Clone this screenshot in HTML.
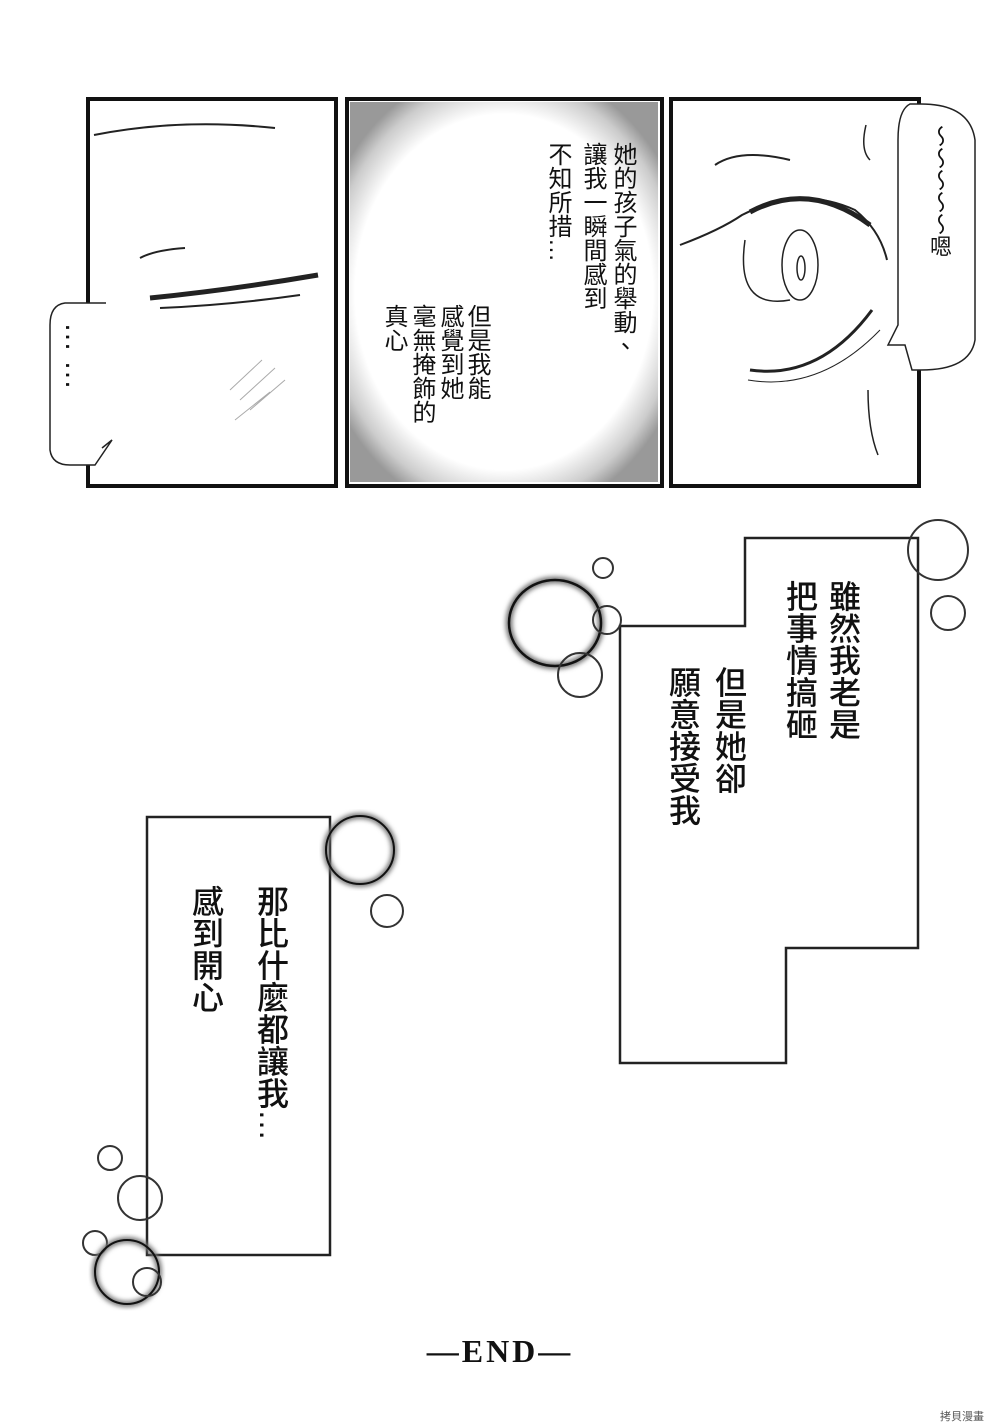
<!DOCTYPE html>
<html><head><meta charset="utf-8"><style>
body{margin:0;background:#fff;}
#p{position:relative;width:1000px;height:1425px;overflow:hidden;background:#fff;font-family:"Liberation Sans","Noto Sans CJK TC",sans-serif;}
.v{position:absolute;writing-mode:vertical-rl;color:#111;white-space:nowrap;}
.s{font-size:24px;line-height:28px;}
.b{font-size:32px;line-height:36px;font-weight:500;}
.h{position:absolute;left:350px;top:102px;width:308px;height:380px;background:radial-gradient(ellipse 62% 60% at 50% 50%,#fff 78%,#ccc 92%,#999 100%);}
</style></head><body><div id="p">
<div class="h"></div>
<svg width="1000" height="1425" style="position:absolute;left:0;top:0">
<defs><filter id="bl"><feGaussianBlur stdDeviation="2.5"/></filter></defs>
<g fill="none" stroke="#111" stroke-width="4">
<rect x="88" y="99" width="248" height="387"/>
<rect x="347" y="99" width="315" height="387"/>
<rect x="671" y="99" width="248" height="387"/>
</g>
<g fill="none" stroke="#222">
<path d="M94 135 Q180 118 275 128" stroke-width="2"/>
<path d="M140 258 Q155 250 185 248" stroke-width="2"/>
<path d="M150 298 Q230 290 318 275" stroke-width="5"/>
<path d="M160 308 Q230 305 300 295" stroke-width="2"/>
<path d="M230 390 L262 360 M240 400 L275 368 M250 410 L285 380 M235 420 L270 392" stroke="#aaa" stroke-width="1"/>
</g>
<path d="M106 303 L65 303 Q50 305 50 325 L50 450 Q52 465 70 465 L95 465 L112 440 L102 448" fill="#fff" stroke="#222" stroke-width="1.5"/>
<g fill="none" stroke="#222">
<path d="M715 165 Q740 148 790 160" stroke-width="2"/>
<path d="M680 245 Q720 230 742 215 Q800 185 855 210 Q880 230 887 260" stroke-width="2"/>
<path d="M750 212 Q810 180 870 225" stroke-width="5"/>
<path d="M745 240 Q735 310 790 300" stroke-width="1.5"/>
<path d="M750 370 Q820 380 872 310" stroke-width="3"/>
<path d="M748 380 Q820 392 880 330" stroke-width="1"/>
<ellipse cx="800" cy="265" rx="18" ry="35" stroke-width="1.5"/>
<ellipse cx="801" cy="268" rx="4" ry="12" stroke-width="1.5"/>
<path d="M866 125 Q860 150 870 160" stroke-width="1.5"/>
<path d="M868 390 Q868 430 878 455" stroke-width="1.5"/>
</g>
<path d="M921 104 L910 104 Q898 110 898 140 L898 325 L888 345 L905 345 L912 370 L921 370" fill="#fff" stroke="#222" stroke-width="1.5"/>
<path d="M921 104 Q970 104 975 140 L975 340 Q970 370 921 370" fill="#fff" stroke="#222" stroke-width="1.5"/>
<path d="M745 538 L918 538 L918 948 L786 948 L786 1063 L620 1063 L620 626 L745 626 Z" fill="#fff" stroke="#222" stroke-width="2.5"/>
<rect x="147" y="817" width="183" height="438" fill="#fff" stroke="#222" stroke-width="2.5"/>
<g fill="none" stroke="#333" stroke-width="2">
<ellipse cx="555" cy="623" rx="46" ry="43" stroke-width="7" stroke="#777" filter="url(#bl)"/>
<ellipse cx="555" cy="623" rx="46" ry="43" stroke-width="2.5" stroke="#111"/>
<circle cx="603" cy="568" r="10"/>
<circle cx="607" cy="620" r="14"/>
<circle cx="580" cy="675" r="22"/>
<circle cx="938" cy="550" r="30"/>
<circle cx="948" cy="613" r="17"/>
<circle cx="360" cy="850" r="34" stroke-width="6" stroke="#777" filter="url(#bl)"/>
<circle cx="360" cy="850" r="34" stroke-width="2" stroke="#111"/>
<circle cx="387" cy="911" r="16"/>
<circle cx="110" cy="1158" r="12"/>
<circle cx="140" cy="1198" r="22"/>
<circle cx="95" cy="1243" r="12"/>
<circle cx="127" cy="1272" r="32" stroke-width="6" stroke="#777" filter="url(#bl)"/>
<circle cx="127" cy="1272" r="32" stroke-width="2" stroke="#111"/>
<circle cx="147" cy="1282" r="14"/>
</g>
</svg>
<div class="v s" style="left:608px;top:142px">她的孩子氣的舉動、</div>
<div class="v s" style="left:578px;top:142px">讓我一瞬間感到</div>
<div class="v s" style="left:543px;top:142px">不知所措…</div>
<div class="v s" style="left:462px;top:304px">但是我能</div>
<div class="v s" style="left:435px;top:304px">感覺到她</div>
<div class="v s" style="left:407px;top:304px">毫無掩飾的</div>
<div class="v s" style="left:379px;top:304px">真心</div>
<div class="v s" style="left:925px;top:125px;font-size:22px">～～～～～嗯</div>
<div class="v s" style="left:60px;top:322px;font-size:30px;line-height:30px;letter-spacing:8px">……</div>
<div class="v b" style="left:825px;top:580px">雖然我老是</div>
<div class="v b" style="left:782px;top:580px">把事情搞砸</div>
<div class="v b" style="left:711px;top:666px">但是她卻</div>
<div class="v b" style="left:665px;top:666px">願意接受我</div>
<div class="v b" style="left:253px;top:885px">那比什麼都讓我…</div>
<div class="v b" style="left:188px;top:885px">感到開心</div>
<div style="position:absolute;left:400px;top:1333px;width:200px;text-align:center;font:bold 32px 'Liberation Serif',serif;letter-spacing:3px;color:#111">—END—</div>
<div style="position:absolute;left:940px;top:1408px;font-size:11px;color:#555">拷貝漫畫</div>
</div></body></html>
